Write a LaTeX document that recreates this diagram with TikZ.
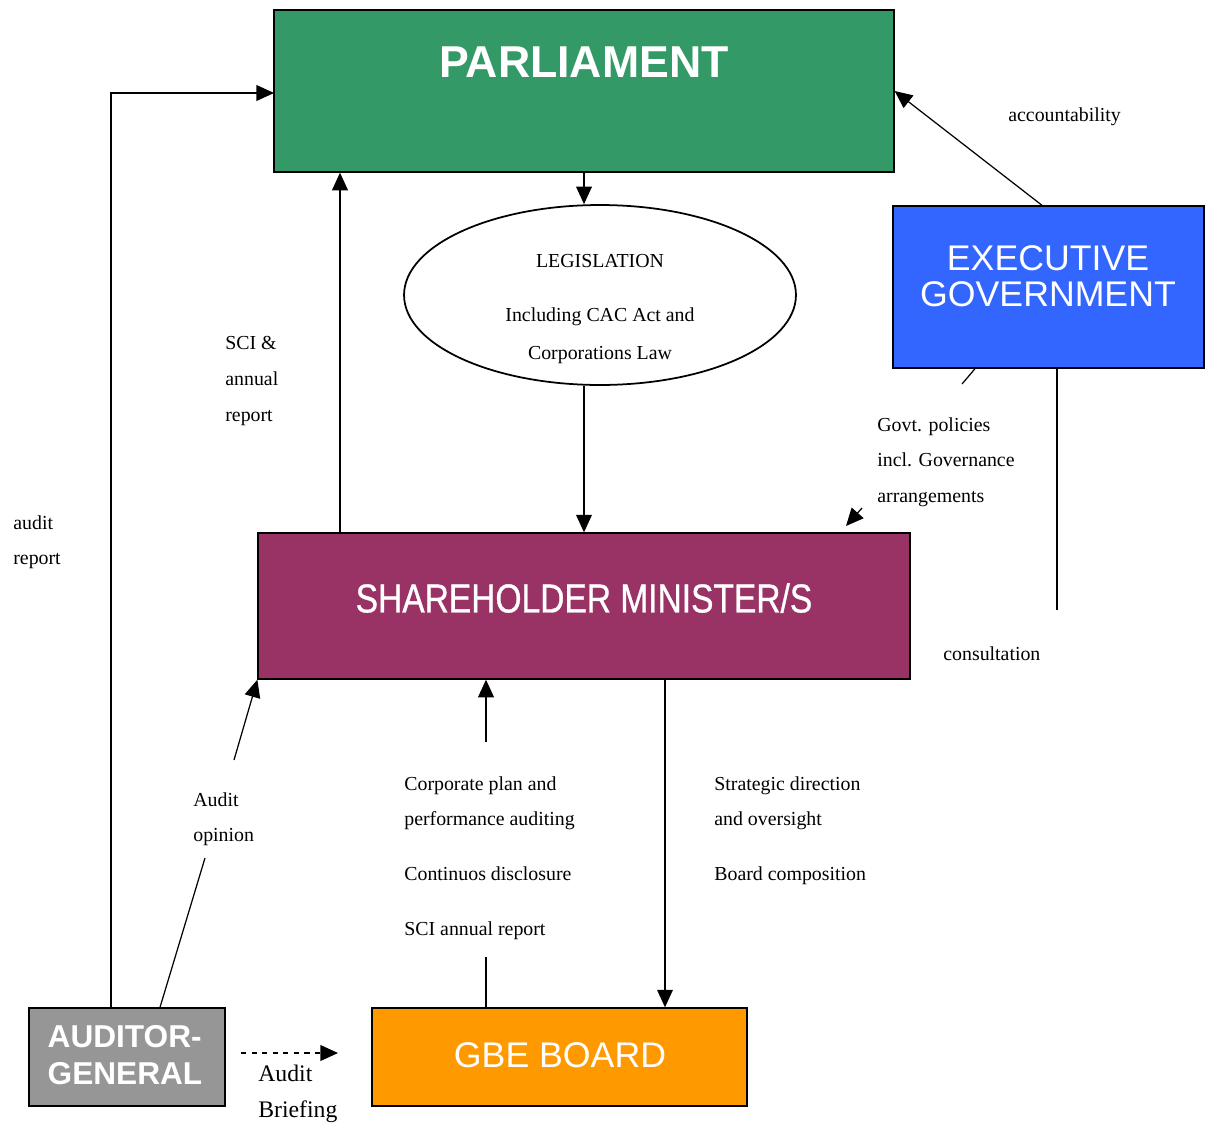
\documentclass[tikz,border=0pt]{standalone}
\usepackage{fontspec}
\setmainfont{Liberation Serif}
\newfontfamily\arialfont{Liberation Sans}
\newfontfamily\narrowfont[FakeStretch=0.83,FakeBold=0.8]{Liberation Sans}
\usetikzlibrary{arrows.meta,shapes.geometric}
\definecolor{parlgreen}{HTML}{339966}
\definecolor{execblue}{HTML}{3366FF}
\definecolor{shmpurple}{HTML}{993366}
\definecolor{gbeorange}{HTML}{FF9900}
\definecolor{aggrey}{HTML}{969696}
\newcommand\lblfont{\fontsize{11.3}{20.4}\selectfont}
\tikzset{
  box/.style={draw, line width=0.8pt, inner sep=0pt},
  title/.style={text=white, inner sep=0pt, align=center},
  lbl/.style={anchor=north west, inner sep=0pt, align=left, font=\lblfont},
  arr/.style={line width=0.7pt, -{Triangle[length=10pt,width=9pt]}},
  ln/.style={line width=0.7pt}
}
\begin{document}
\begin{tikzpicture}[x=0.02cm,y=-0.02cm]
                    \useasboundingbox (0,0) rectangle (1207,1126);
                    % boxes
                    \node [box, fill=parlgreen, minimum width=12.4cm, minimum height=3.24cm] (parl) at (584,91){};
                    \node [title, font=\arialfont\bfseries\fontsize{25.4}{30}\selectfont] (parltitle) at (584,62){PARLIAMENT};
                    \node [box, ellipse, line width=1pt, minimum width=7.84cm, minimum height=3.6cm] (leg) at (600,295){};
                    \node [inner sep=0pt, align=center, font=\fontsize{11.3}{21.5}\selectfont] (legtxt) at (600,309){LEGISLATION\\[9pt]Including CAC Act and\\Corporations Law};
                    \node [box, fill=execblue, minimum width=6.22cm, minimum height=3.24cm] (exec) at (1048.5,287){};
                    \node [title, font=\arialfont\fontsize{20.3}{20.4}\selectfont] (exectitle) at (1048,276){EXECUTIVE\\GOVERNMENT};
                    \node [box, fill=shmpurple, minimum width=13.04cm, minimum height=2.92cm] (shm) at (584,606){};
                    \node [title, font=\narrowfont\fontsize{23}{26}\selectfont] (shmtitle) at (584,598){SHAREHOLDER MINISTER/S};
                    \node [box, fill=gbeorange, minimum width=7.5cm, minimum height=1.96cm] (gbe) at (559.5,1057){};
                    \node [title, font=\arialfont\fontsize{20.3}{24}\selectfont] (gbetitle) at (560,1055){GBE BOARD};
                    \node [box, fill=aggrey, minimum width=3.92cm, minimum height=1.96cm] (ag) at (127,1057){};
                    \node [title, align=left, font=\arialfont\bfseries\fontsize{18}{21}\selectfont] (agtitle) at (125,1055){AUDITOR-\\GENERAL};
                    % free ends
                    \coordinate (opinionlow) at (205,858);
                    \coordinate (opinionhigh) at (234,760);
                    \coordinate (policyhigh) at (962,384);
                    \coordinate (policylow) at (862,508);
                    \coordinate (policyend) at (846,526);
                    \coordinate (consultend) at (1057,610);
                    \coordinate (planstart) at (486,742);
                    \coordinate (planend) at (486,957);
                    \coordinate (briefstart) at (241,1053);
                    \coordinate (briefend) at (338,1053);
                    % connectors
                    \draw [arr] (parl.south) -- (parl.south |- leg.north);
                    \draw [arr] (shm.north |- leg.south) -- (shm.north);
                    \draw [arr] (shm.north -| 340,0) -- (parl.south -| 340,0);
                    \draw [arr] (ag.north -| 111,0) |- (274,93);
                    \draw [ln] (ag.north -| 160,0) -- (opinionlow);
                    \draw [arr] (opinionhigh) -- (shm.south west);
                    \draw [arr] (exec.north -| 1042,0) -- (parl.east);
                    \draw [ln] (exec.south -| 975,0) -- (policyhigh);
                    \draw [arr] (policylow) -- (policyend);
                    \draw [ln] (exec.south -| 1057,0) -- (consultend);
                    \draw [arr] (planstart) -- (shm.south -| planstart);
                    \draw [ln] (gbe.north -| planend) -- (planend);
                    \draw [arr] (shm.south -| 665,0) -- (gbe.north -| 665,0);
                    \draw [arr, dashed] (briefstart) -- (briefend);
                    % labels
                    \node [lbl] (acclbl) at (1008,107){accountability};
                    \node [lbl] (scilbl) at (225,336){SCI \&\\annual\\report};
                    \node [lbl] (auditlbl) at (13,515){audit\\report};
                    \node [lbl] (policylbl) at (877,417){Govt. policies\\incl. Governance\\arrangements};
                    \node [lbl] (consultlbl) at (943,646){consultation};
                    \node [lbl] (opinionlbl) at (193,792){Audit\\opinion};
                    \node [lbl] (planlbl) at (404,776){Corporate plan and\\performance auditing\\[10.8pt]Continuos disclosure\\[10.8pt]SCI annual report};
                    \node [lbl] (directlbl) at (714,776){Strategic direction\\and oversight\\[10.8pt]Board composition};
                    \node [lbl, font=\fontsize{13.5}{20.4}\selectfont] (brieflbl) at (258,1065){Audit\\Briefing};
                \end{tikzpicture}
\end{document}
